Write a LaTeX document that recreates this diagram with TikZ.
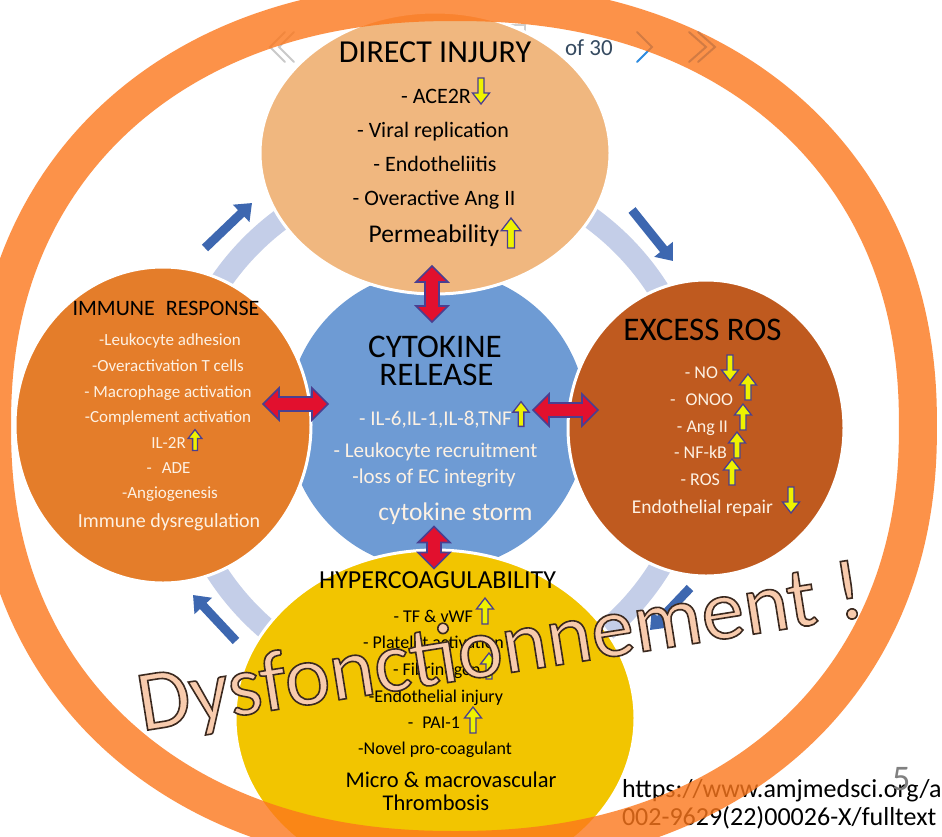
\documentclass[tikz,border=0pt]{standalone}
\usepackage{fontspec}
\setmainfont{Carlito}
\usetikzlibrary{arrows.meta}
\newcommand\FSz[1]{\fontsize{#1}{#1}\selectfont}
\definecolor{ringor}{HTML}{FC771C}
\definecolor{peach}{HTML}{F0B77F}
\definecolor{immor}{HTML}{E47D2A}
\definecolor{rosbr}{HTML}{BF5A1F}
\definecolor{yel}{HTML}{F2C500}
\definecolor{cyblue}{HTML}{6E9BD4}
\definecolor{ltblue}{HTML}{C4CEE8}
\definecolor{arblue}{HTML}{3D67B0}
\definecolor{redar}{HTML}{E2102E}
\definecolor{navy}{HTML}{4A3F90}
\definecolor{yarr}{HTML}{EEF200}
\definecolor{cream}{HTML}{FDF1E3}
\definecolor{dpeach}{HTML}{F8CBAD}
\definecolor{chevblue}{HTML}{2C8BE0}
\definecolor{chevgray}{HTML}{C9C9C9}
\definecolor{ofcol}{HTML}{354A60}
\definecolor{boxgray}{HTML}{CFCFCF}
\newcommand\DblArr[4]{%
  \begin{scope}[shift={(#1,#2)}, rotate=#3]
    \draw[draw=navy, line width=1.6pt, fill=redar, line join=miter]
      (-#4,0) -- ({-#4+16},-16) -- ({-#4+16},-7) -- ({#4-16},-7) -- ({#4-16},-16)
      -- (#4,0) -- ({#4-16},16) -- ({#4-16},7) -- ({-#4+16},7) -- ({-#4+16},16) -- cycle;
  \end{scope}}
\newcommand\OutlineOn{\special{pdf:literal direct 2 Tr 1.6 w 0.23 0.16 0.12 RG}}
\newcommand\OutlineOff{\special{pdf:literal direct 0 Tr}}
\tikzset{
  lbl/.style={anchor=base, inner sep=0pt, outer sep=0pt},
  bubble/.style={draw=white, line width=3pt},
  bluearr/.style={draw=arblue, line width=9pt, -{Triangle[width=23pt,length=15pt]}},
  uparrow/.pic={\draw[draw=navy, line width=1.3pt, fill=yarr, line join=miter]
     (-3,13) -- (-3,-2) -- (-8.5,-2) -- (0,-13) -- (8.5,-2) -- (3,-2) -- (3,13) -- cycle;},
  downarrow/.pic={\draw[draw=navy, line width=1.3pt, fill=yarr, line join=miter]
     (-3,-13) -- (-3,2) -- (-8.5,2) -- (0,13) -- (8.5,2) -- (3,2) -- (3,-13) -- cycle;},
  chev/.style={line width=2pt, line cap=round, line join=miter}
}
\begin{document}
\begin{tikzpicture}[x=1pt,y=-1pt]
\useasboundingbox (0,0) rectangle (942,836);
\clip (0,0) rectangle (942,836);
\fill[white] (0,0) rectangle (942,836);

% viewer page box (behind the top circle)
\draw[boxgray, line width=1.5pt] (488,25) rectangle (525,70);

% light blue cycle ring
\draw[ltblue, line width=22pt] (437,430) circle [radius=262];

% cytokine release background
\fill[cyblue] (437,420) circle [radius=150];

% the four circles
\coordinate (cDI) at (435,153);
\coordinate (cIR) at (163,425);
\coordinate (cER) at (706,428);
\coordinate (cHC) at (435,718);
\filldraw[fill=peach, bubble] (cDI) ellipse [x radius=175, y radius=141];
\filldraw[fill=immor, bubble] (cIR) ellipse [x radius=148, y radius=158];
\filldraw[fill=rosbr, bubble] (cER) ellipse [x radius=138, y radius=148];
\filldraw[fill=yel, bubble] (cHC) ellipse [x radius=200, y radius=168];

% red double arrows
\DblArr{432}{294}{90}{28}
\DblArr{295.5}{404}{0}{32.5}
\DblArr{565.5}{410}{0}{32.5}
\DblArr{434}{547.5}{90}{21}

% blue cycle arrows
\coordinate (tlT) at (205,248); \coordinate (tlH) at (252,203);
\coordinate (trT) at (632,210); \coordinate (trH) at (673,261);
\coordinate (brT) at (690,588); \coordinate (brH) at (650,630);
\coordinate (blT) at (236,641); \coordinate (blH) at (193,595);
\draw[bluearr] (tlT) -- (tlH);
\draw[bluearr] (trT) -- (trH);
\draw[bluearr] (brT) -- (brH);
\draw[bluearr] (blT) -- (blH);

% DIRECT INJURY
\node[lbl, font=\FSz{32}] (di0) at (435,62) {DIRECT INJURY};
\node[lbl, font=\FSz{22}] (di1) at (436,103) {- ACE2R};
\pic at (481,91) {downarrow};
\node[lbl, font=\FSz{22}] (di2) at (433,137) {- Viral replication};
\node[lbl, font=\FSz{22}] (di3) at (435,171) {- Endotheliitis};
\node[lbl, font=\FSz{22}] (di4) at (434,205) {- Overactive Ang II};
\node[lbl, font=\FSz{25.5}] (di5) at (434,242) {Permeability};
\pic[scale=1.15] at (511,233) {uparrow};

% IMMUNE RESPONSE
\node[lbl, font=\FSz{22}] (ir0) at (166,315) {IMMUNE\hspace{0.5em}RESPONSE};
\node[lbl, font=\FSz{17}, text=cream] (ir1) at (170,345) {-Leukocyte adhesion};
\node[lbl, font=\FSz{17}, text=cream] (ir2) at (168,371) {-Overactivation T cells};
\node[lbl, font=\FSz{17}, text=cream] (ir3) at (168,397) {- Macrophage activation};
\node[lbl, font=\FSz{17}, text=cream] (ir4) at (168,422) {-Complement activation};
\node[lbl, font=\FSz{17}, text=cream] (ir5) at (168.5,448) {IL-2R};
\pic[scale=0.8] at (195,440) {uparrow};
\node[lbl, font=\FSz{17}, text=cream] (ir6) at (168.5,473) {-\hspace{0.6em}ADE};
\node[lbl, font=\FSz{17}, text=cream] (ir7) at (170,498) {-Angiogenesis};
\node[lbl, font=\FSz{20}, text=cream] (ir8) at (169,527) {Immune dysregulation};

% CYTOKINE RELEASE
\node[lbl, font=\FSz{33}] (cr0) at (435,357) {CYTOKINE};
\node[lbl, font=\FSz{33}] (cr1) at (436.5,385) {RELEASE};
\node[lbl, font=\FSz{21}, text=cream] (cr2) at (435.5,425) {- IL-6,IL-1,IL-8,TNF};
\pic[scale=0.95] at (521,414) {uparrow};
\node[lbl, font=\FSz{21}, text=cream] (cr3) at (435.5,457) {- Leukocyte recruitment};
\node[lbl, font=\FSz{21}, text=cream] (cr4) at (434,483) {-loss of EC integrity};
\node[lbl, font=\FSz{25.5}, text=cream] (cr5) at (455.5,520) {cytokine storm};

% EXCESS ROS
\node[lbl, font=\FSz{33}] (er0) at (702.5,340) {EXCESS ROS};
\node[lbl, anchor=base east, font=\FSz{18}, text=cream] (er1) at (718,378) {- NO};
\pic at (730,368) {downarrow};
\node[lbl, anchor=base east, font=\FSz{18}, text=cream] (er2) at (733,405) {-\hspace{10pt}ONOO};
\pic at (748,387) {uparrow};
\node[lbl, anchor=base east, font=\FSz{18}, text=cream] (er3) at (728,432) {- Ang II};
\pic at (743,417) {uparrow};
\node[lbl, anchor=base east, font=\FSz{18}, text=cream] (er4) at (727,458) {- NF-kB};
\pic at (737,445) {uparrow};
\node[lbl, anchor=base east, font=\FSz{18}, text=cream] (er5) at (720,485) {- ROS};
\pic at (732,472) {uparrow};
\node[lbl, font=\FSz{19.5}, text=cream] (er6) at (702.5,513) {Endothelial repair};
\pic at (791,500) {downarrow};

% HYPERCOAGULABILITY
\node[lbl, font=\FSz{26}] (hc0) at (437.5,588) {HYPERCOAGULABILITY};
\node[lbl, anchor=base east, font=\FSz{18}] (hc1) at (473,622) {- TF \& vWF};
\pic at (485,611) {uparrow};
\node[lbl, anchor=base west, font=\FSz{18}] (hc2) at (363,648) {- Platelet activation};
\node[lbl, anchor=base west, font=\FSz{18}] (hc3) at (393,675) {- Fibrinogen};
\pic at (489,666) {uparrow};
\node[lbl, font=\FSz{18}] (hc4) at (436,702) {-Endothelial injury};
\node[lbl, anchor=base east, font=\FSz{18}] (hc5) at (460,728) {-\hspace{0.5em}PAI-1};
\pic at (473,720) {uparrow};
\node[lbl, font=\FSz{18}] (hc6) at (435,754) {-Novel pro-coagulant};
\node[lbl, font=\FSz{22.5}] (hc7) at (451,787) {Micro \& macrovascular};
\node[lbl, font=\FSz{22.5}] (hc8) at (436,810) {Thrombosis};

% overlay word (outlined text)
\node[lbl, anchor=base west, rotate=9, font=\FSz{86}, text=dpeach] (dys) at (142,731)
  {\OutlineOn Dysfonctionnement !\OutlineOff};

% source
\node[lbl, anchor=base west, font=\FSz{26}] (url1) at (622,797) {https://www.amjmedsci.org/a};
\node[lbl, anchor=base west, font=\FSz{26}] (url2) at (622,825) {002-9629(22)00026-X/fulltext};
\node[lbl, anchor=base west, font=\FSz{36}, text=gray] (pg) at (892,790) {5};

% viewer toolbar
\draw[chev, chevgray] (285,32) -- (270,47) -- (285,62);
\draw[chev, chevgray] (294,32) -- (279,47) -- (294,62);
\node[lbl, anchor=base west, font=\FSz{23}, text=ofcol] (of) at (565,55) {of 30};
\draw[chev, chevblue] (637,32) -- (652,47) -- (637,62);
\draw[chev, chevblue] (689,32) -- (706,47) -- (689,62);
\draw[chev, chevblue] (698,32) -- (715,47) -- (698,62);

% big orange ring (translucent, on top): superellipse
\draw[ringor, draw opacity=0.8, line width=38pt]
  plot[domain=1:359, samples=180, smooth]
  ({455+463*cos(\x)*abs(cos(\x))^(-0.0909)}, {426+424*sin(\x)*abs(sin(\x))^(-0.0909)}) -- cycle;
\end{tikzpicture}
\end{document}
